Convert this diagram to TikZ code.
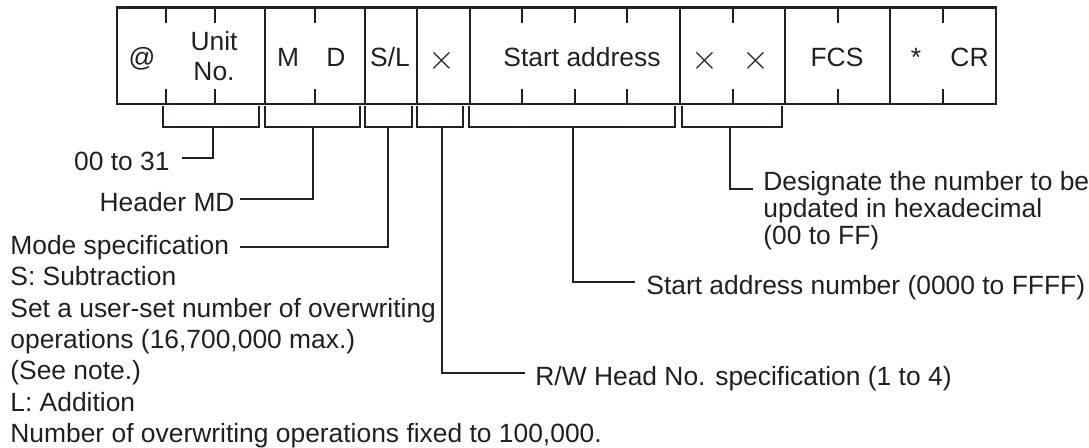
\documentclass[tikz,border=0pt]{standalone}
\usepackage{fontspec}
\setmainfont{Liberation Sans}
\definecolor{ink}{RGB}{35,31,32}
\tikzset{
  frm/.style={draw=ink,line width=1.1pt},
  brk/.style={draw=ink,line width=0.65pt},
  ldr/.style={draw=ink,line width=0.65pt},
  cell/.style={font=\fontsize{13.2}{15}\selectfont,text=ink,
               inner sep=0pt,anchor=base},
  cross/.style={cell,font=\fontsize{17}{17}\selectfont},
  lbl/.style={font=\fontsize{13.2}{15}\selectfont,text=ink,
              inner ysep=0pt,text height=12pt,text depth=0pt},
  note/.style={font=\fontsize{13.2}{15.65}\selectfont,text=ink,
               inner sep=0pt,align=left,anchor=north west},
}
\begin{document}
\begin{tikzpicture}[x=0.5pt,y=-0.5pt]
  \useasboundingbox (0,0) rectangle (1089,447);
  % command frame
  \draw[frm] (117,7.5) rectangle (996,104);
  \foreach \x in {265,365,417,470,680,785,890}
    \draw[frm] (\x,7.5) -- (\x,104);
  \foreach \x in {166,215,315,522,575,627,733,838,943}{
    \draw[frm] (\x,7.5) -- (\x,23);
    \draw[frm] (\x,89) -- (\x,104);
  }

  % field contents
  \node[cell] (fAt)   at (142,66)   {@};
  \node[cell,anchor=center,align=center] (fUnit) at (214,56) {Unit\\No.};
  \node[cell] (fM)    at (288,66)   {M};
  \node[cell] (fD)    at (336,66)   {D};
  \node[cell] (fSL)   at (390,66)   {S/L};
  \node[cross] (fX)   at (442,69)   {$\times$};
  \node[cell] (fAddr) at (582,66)   {Start address};
  \node[cross] (fXa)  at (705,69)   {$\times$};
  \node[cross] (fXb)  at (756,69)   {$\times$};
  \node[cell] (fFCS)  at (837,66)   {FCS};
  \node[cell] (fStar) at (916,66)   {*};
  \node[cell] (fCR)   at (969.5,66) {CR};

  % brackets under the fields
  \foreach \xa/\xb/\xs/\nm in {163/259/213/bUnit,265/360/313/bMD,
      365/412/388/bSL,417/463/442/bX,469/675/573/bAddr,682/782/730/bXX}{
    \draw[brk] (\xa,106) |- (\xb,127) -- (\xb,106);
    \coordinate (\nm) at (\xs,127);
  }

  % labels
  \node[lbl,anchor=east,inner xsep=6pt]   (lUnit) at (182,158) {00 to 31};
  \node[lbl,anchor=east,inner xsep=2.5pt] (lMD)   at (240,199) {Header MD};
  \node[note] (lMode) at (10,235) {Mode specification\\S: Subtraction\\
    Set a user-set number of overwriting\\operations (16,700,000 max.)\\
    (See note.)\\L: Addition\\
    Number of overwriting operations fixed to 100,000.};
  \coordinate (cMode) at (240,247);
  \node[lbl,anchor=west,inner xsep=5pt]   (lHead) at (525,373)
    {R/W Head No. specification (1 to 4)};
  \node[lbl,anchor=west,inner xsep=5.5pt] (lAddr) at (635,282)
    {Start address number (0000 to FFFF)};
  \node[note,font=\fontsize{13.2}{13.5}\selectfont] (lCount) at (763,171)
    {Designate the number to be\\updated in hexadecimal\\(00 to FF)};

  % leaders
  \draw[ldr] (bUnit) |- (lUnit.east);
  \draw[ldr] (bMD)   |- (lMD.east);
  \draw[ldr] (bSL)   |- (cMode);
  \draw[ldr] (bX)    |- (lHead.west);
  \draw[ldr] (bAddr) |- (lAddr.west);
  \draw[ldr] (bXX)   |- ([xshift=-5pt,yshift=-9pt]lCount.north west);
\end{tikzpicture}
\end{document}
